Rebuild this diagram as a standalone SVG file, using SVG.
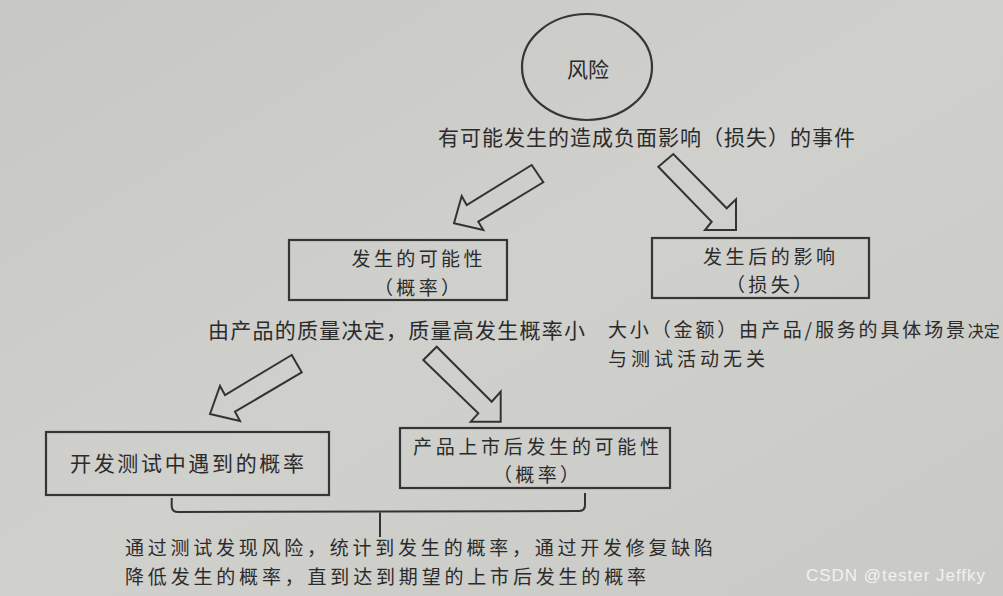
<svg xmlns="http://www.w3.org/2000/svg" width="1003" height="596" viewBox="0 0 1003 596">
<defs>
<linearGradient id="bg" x1="0" y1="0" x2="1" y2="1">
<stop offset="0" stop-color="#c7c7c3"/>
<stop offset="0.5" stop-color="#d0d0cc"/>
<stop offset="1" stop-color="#c9c9c5"/>
</linearGradient>
<style>
.t{font-family:"Noto Sans CJK SC","Noto Sans",sans-serif;font-size:21px;fill:#2b2b2b}
.s{font-size:19px}
.m{text-anchor:middle}
.b{fill:none;stroke:#363636;stroke-width:2.2}
.a{fill:none;stroke:#333;stroke-width:2;stroke-linejoin:miter}
.w{font-family:"Liberation Sans","Noto Sans",sans-serif;font-size:17px;fill:#f2f2f0}
</style>
</defs>
<rect width="1003" height="596" fill="url(#bg)"/>
<g id="risk">
<ellipse class="b" cx="587" cy="67" rx="65" ry="53"/>
<text class="t m" x="588" y="77" font-size="20">风险</text>
</g>
<text class="t" x="438" y="145" textLength="417">有可能发生的造成负面影响（损失）的事件</text>
<g id="probability">
<rect class="b" x="289" y="240" width="218" height="60"/>
<text class="t s m" x="417" y="266" textLength="131">发生的可能性</text>
<text class="t s m" x="417" y="295" textLength="86">（概率）</text>
</g>
<g id="impact">
<rect class="b" x="652" y="238" width="217" height="60"/>
<text class="t s m" x="769" y="264" textLength="132">发生后的影响</text>
<text class="t s m" x="769" y="292" textLength="86">（损失）</text>
</g>
<text class="t" x="208" y="338" textLength="377">由产品的质量决定，质量高发生概率小</text>
<text class="t s" x="608" y="337"><tspan textLength="357">大小（金额）由产品/服务的具体场景</tspan><tspan font-size="16">决定</tspan></text>
<text class="t s" x="608" y="366" textLength="157">与测试活动无关</text>
<g id="devtest">
<rect class="b" x="46" y="432" width="283" height="63"/>
<text class="t m" x="187" y="471" textLength="234">开发测试中遇到的概率</text>
</g>
<g id="market">
<rect class="b" x="400" y="428" width="270" height="60"/>
<text class="t s m" x="536" y="454" textLength="246">产品上市后发生的可能性</text>
<text class="t s m" x="536" y="482" textLength="86">（概率）</text>
</g>
<g id="connectors">
<polygon class="a" points="531.7,165 466.7,205 461.7,196 454,223.3 483.3,230 478.3,221.7 543.3,182.3"/>
<polygon class="a" points="658.3,166.7 711.7,221.7 705,230 736,230 736,199.3 726.7,208.3 673.3,154"/>
<polygon class="a" points="291.7,355 225,395 220,386 210,414 240,421 235,411.7 301.7,372.3"/>
<polygon class="a" points="423.3,360 478.3,413.3 470.7,421.7 500.7,421.7 500.7,391.7 491.7,401.7 436.7,346.7"/>
<path class="a" d="M171.7,498 L171.7,506 Q171.7,512 178,512 L579,511 Q585,511 585,505 L585,493 M380,511.5 L380,537"/>
</g>
<text class="t s" x="125" y="555" textLength="588">通过测试发现风险，统计到发生的概率，通过开发修复缺陷</text>
<text class="t s" x="125" y="584" textLength="521">降低发生的概率，直到达到期望的上市后发生的概率</text>
<text class="w" x="806" y="581" textLength="179">CSDN @tester Jeffky</text>
</svg>
